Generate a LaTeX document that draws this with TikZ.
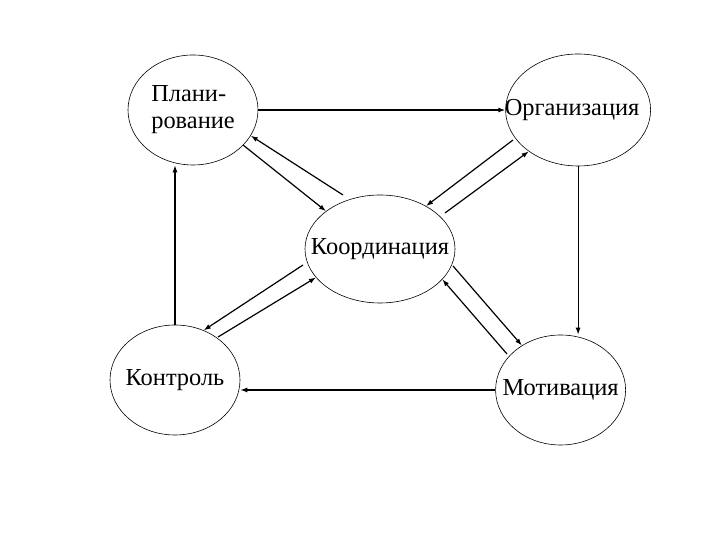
\documentclass[tikz,border=0pt]{standalone}
\usepackage{fontspec}
\setmainfont{Liberation Serif}
\usetikzlibrary{
	arrows.meta,shapes.geometric,positioning,calc
}
\tikzset{
	stage/.style={
		ellipse, draw, line width=0.6pt, inner sep=0pt,
		minimum width=130bp, minimum height=110bp,
		font=\fontsize{24.5}{27}\selectfont
	},
	%
	link/.style={
		-{Latex[length=7pt,width=5pt]}, line width=1.2pt
	}
}

\begin{document}
\begin{tikzpicture}[x=1bp,y=1bp]
\useasboundingbox (0,0) rectangle (720,540);
\node(plan)[stage, align=left] at (193,430) {Плани-\\рование};
\node(org)[stage, right=247bp of plan, minimum width=145bp, minimum height=112bp] {\makebox[0pt]{\hspace{-12bp}Организация}};
\node(coord)[stage, minimum width=150bp, minimum height=108bp] at (380,291) {\makebox[0pt]{Координация}};
\node(ctrl)[stage] at (175,160) {\makebox[0pt]{\raisebox{-2bp}{Контроль}}};
\node(motiv)[stage, right=255bp of ctrl, yshift=-10bp] {\makebox[0pt]{Мотивация}};
% free ends of the paired arrows
\coordinate(pc) at (343,345);
\coordinate(oc) at (513,400);
\coordinate(co) at (445,327);
\coordinate(kc) at (303,275);
\coordinate(ck) at (218,203);
\coordinate(cm) at (453,274);
\coordinate(mc) at (507,186);
% outer ring
\draw[link] (plan.east) -- (org.west);
\draw[link] (org.south) -- (org.south |- motiv.north);
\draw[link] (motiv.west) -- (motiv.west -| ctrl.east);
\draw[link] (ctrl.north) -- (ctrl.north |- plan.south);
% to and from the centre
\draw[link] (pc) -- (plan.-24.5);
\draw[link] (plan.-35.5) -- (coord.145.8);
\draw[link] (oc) -- (coord.43.7);
\draw[link] (co) -- (org.220.6);
\draw[link] (kc) -- (ctrl.60.3);
\draw[link] (ck) -- (coord.204.3);
\draw[link] (cm) -- (motiv.131.5);
\draw[link] (mc) -- (coord.-26.9);
\end{tikzpicture}
\end{document}
